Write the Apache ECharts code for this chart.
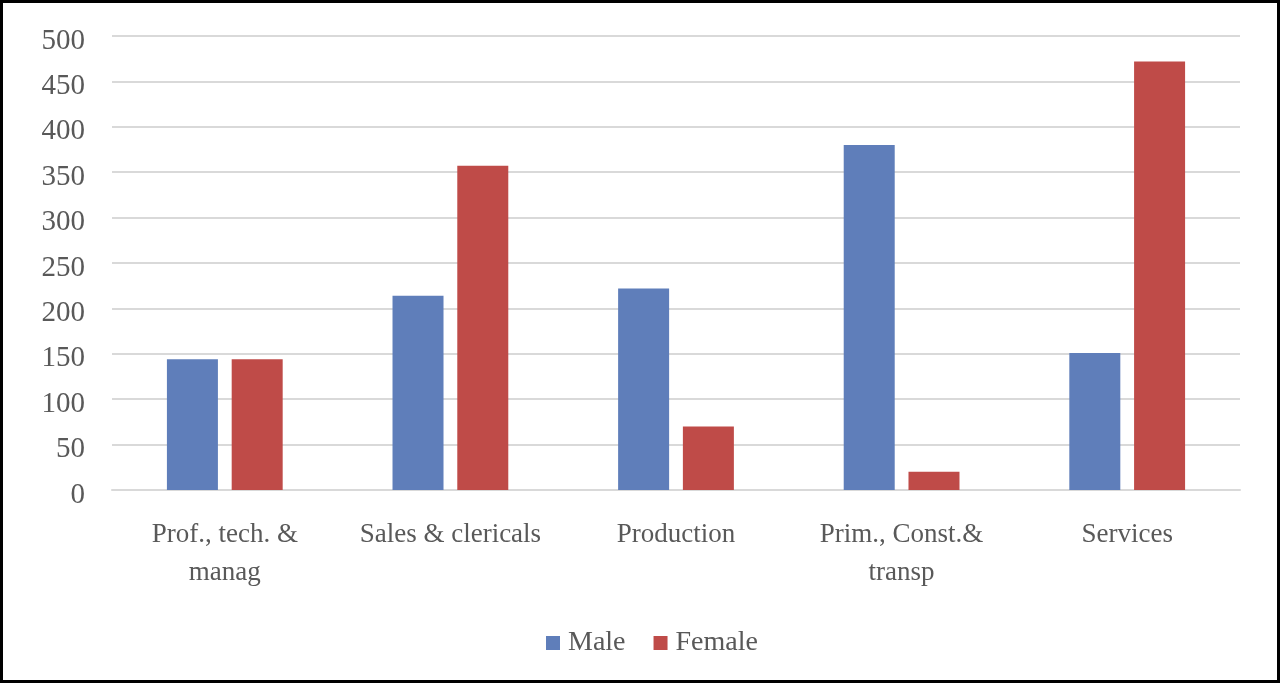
<!DOCTYPE html>
<html>
<head>
<meta charset="utf-8">
<script src="https://cdn.jsdelivr.net/npm/echarts@6/dist/echarts.min.js"></script>
<style>
html,body{margin:0;padding:0;background:#fff;}
#frame{position:absolute;left:0;top:0;width:1280px;height:683px;box-sizing:border-box;border:3px solid #000;}
#chart{position:absolute;left:0;top:0;width:1280px;height:683px;}
</style>
</head>
<body>
<div id="chart"></div>
<div id="frame"></div>
<script>
const categories = ['Prof., tech. &\nmanag', 'Sales & clericals', 'Production', 'Prim., Const.&\ntransp', 'Services'];
const male = [144, 214, 222, 380, 151];
const female = [144, 357, 70, 20, 472];
const yTicks = {min: 0, max: 500, interval: 50};

const chart = echarts.init(document.getElementById('chart'));
const font = '"Liberation Serif", "Times New Roman", serif';
chart.setOption({
  animation: false,
  backgroundColor: '#fff',
  grid: {left: 112, right: 40, top: 36, bottom: 193},
  legend: {
    bottom: 21, left: 541,
    itemWidth: 14, itemHeight: 14, itemGap: 28,
    icon: 'rect',
    textStyle: {fontFamily: font, fontSize: 28, color: '#595959', padding: [0, 0, 0, 3]},
    data: ['Male', 'Female']
  },
  xAxis: {
    type: 'category',
    data: categories,
    axisLine: {lineStyle: {color: '#d9d9d9', width: 2}},
    axisTick: {show: false},
    axisLabel: {fontFamily: font, fontSize: 27, color: '#595959', margin: 26, lineHeight: 38, interval: 0}
  },
  yAxis: {
    type: 'value',
    min: yTicks.min, max: yTicks.max, interval: yTicks.interval,
    axisLine: {show: false},
    axisTick: {show: false},
    splitLine: {lineStyle: {color: '#d9d9d9', width: 2}},
    axisLabel: {
      margin: 27,
      formatter: '{v|{value}}',
      rich: {v: {fontFamily: font, fontSize: 29, color: '#595959', padding: [10, 0, 0, 0]}}
    }
  },
  series: [
    {name: 'Male', type: 'bar', data: male, barWidth: 51, barGap: '27%', itemStyle: {color: '#5F7EBA'}},
    {name: 'Female', type: 'bar', data: female, barWidth: 51, itemStyle: {color: '#BF4B48'}}
  ]
});
</script>
</body>
</html>
